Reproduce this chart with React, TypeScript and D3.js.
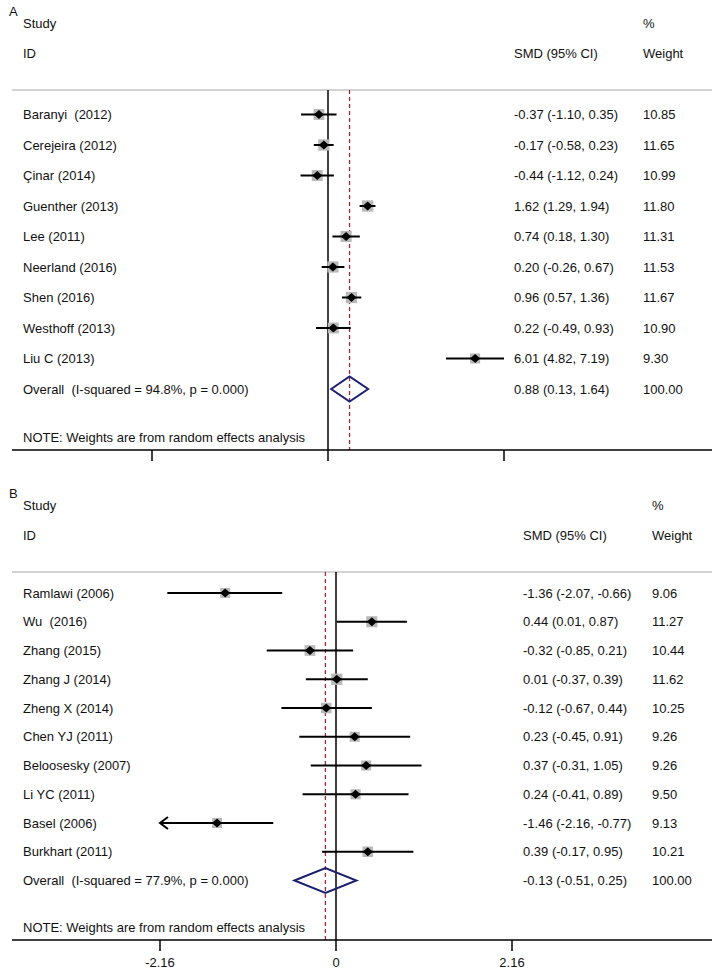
import React from "react";
import * as d3 from "d3";

// ---------- Data ----------
const studiesA = ["Baranyi  (2012)", "Cerejeira (2012)", "Çinar (2014)", "Guenther (2013)", "Lee (2011)", "Neerland (2016)", "Shen (2016)", "Westhoff (2013)", "Liu C (2013)"];
const smdA = [-0.37, -0.17, -0.44, 1.62, 0.74, 0.2, 0.96, 0.22, 6.01];
const lowA = [-1.1, -0.58, -1.12, 1.29, 0.18, -0.26, 0.57, -0.49, 4.82];
const highA = [0.35, 0.23, 0.24, 1.94, 1.3, 0.67, 1.36, 0.93, 7.19];
const weightA = [10.85, 11.65, 10.99, 11.8, 11.31, 11.53, 11.67, 10.9, 9.3];
const overallA = [0.88, 0.13, 1.64];
const overallLabelA = "Overall  (I-squared = 94.8%, p = 0.000)";
const ticksA = [-7.19, 0, 7.19];
const tickLabelsA = ["", "", ""];

const studiesB = ["Ramlawi (2006)", "Wu  (2016)", "Zhang (2015)", "Zhang J (2014)", "Zheng X (2014)", "Chen YJ (2011)", "Beloosesky (2007)", "Li YC (2011)", "Basel (2006)", "Burkhart (2011)"];
const smdB = [-1.36, 0.44, -0.32, 0.01, -0.12, 0.23, 0.37, 0.24, -1.46, 0.39];
const lowB = [-2.07, 0.01, -0.85, -0.37, -0.67, -0.45, -0.31, -0.41, -2.16, -0.17];
const highB = [-0.66, 0.87, 0.21, 0.39, 0.44, 0.91, 1.05, 0.89, -0.77, 0.95];
const weightB = [9.06, 11.27, 10.44, 11.62, 10.25, 9.26, 9.26, 9.5, 9.13, 10.21];
const overallB = [-0.13, -0.51, 0.25];
const overallLabelB = "Overall  (I-squared = 77.9%, p = 0.000)";
const ticksB = [-2.16, 0, 2.16];
const tickLabelsB = ["-2.16", "0", "2.16"];

const FONT = "'Liberation Sans', Arial, Helvetica, sans-serif";
const FS = 13;

type PanelProps = {
  letter: string;
  top: number;
  zero: number;
  studies: string[];
  smd: number[];
  low: number[];
  high: number[];
  weight: number[];
  overall: number[];
  overallLabel: string;
  ticks: number[];
  tickLabels: string[];
  firstRow: number;
  rowStep: number;
  axisY: number;
  smdX: number;
  wX: number;
};

const fmt = (v: number) => v.toFixed(2);

function Panel(p: PanelProps) {
  const tmax = p.ticks[p.ticks.length - 1];
  const x = d3.scaleLinear().domain([-tmax, tmax]).range([p.zero - 176, p.zero + 176]);
  const y = d3.scaleLinear().domain([0, 1]).range([p.firstRow, p.firstRow + p.rowStep]);
  const n = p.studies.length;
  const headerLine = p.top + 90;
  const txt = { fontFamily: FONT, fontSize: FS, fill: "#111" } as const;
  const ovY = y(n);
  const refX = x(p.overall[0]);
  const boxSize = (w: number) => Math.sqrt(w) * 3.3;
  const dh = 12.5;
  return (
    <g>
      <text x={9} y={p.top + 16} style={{ ...txt, fontSize: 13 }}>{p.letter}</text>
      <text x={23} y={p.top + 23} dy="0.35em" style={txt}>Study</text>
      <text x={23} y={p.top + 53} dy="0.35em" style={txt}>ID</text>
      <text x={p.smdX} y={p.top + 53} dy="0.35em" style={txt}>SMD (95% CI)</text>
      <text x={p.wX} y={p.top + 23} dy="0.35em" style={txt}>%</text>
      <text x={p.wX} y={p.top + 53} dy="0.35em" style={txt}>Weight</text>
      <line x1={12} x2={712} y1={headerLine} y2={headerLine} stroke="#c4c4c4" strokeWidth={1.5} />
      {/* zero line */}
      <line x1={x(0)} x2={x(0)} y1={headerLine} y2={p.axisY} stroke="#000" strokeWidth={1.5} />
      {/* overall dashed line */}
      <line x1={refX} x2={refX} y1={headerLine} y2={p.axisY} stroke="#9e2a35" strokeWidth={1.3} strokeDasharray="4,3" />
      {p.studies.map((s, i) => {
        const cy = y(i);
        const lo = Math.max(p.low[i], -tmax);
        const hi = Math.min(p.high[i], tmax);
        const arrowL = p.low[i] <= -tmax;
        const bs = boxSize(p.weight[i]);
        const cx = x(p.smd[i]);
        return (
          <g key={s}>
            <text x={23} y={cy} dy="0.35em" style={{ ...txt, whiteSpace: "pre" }}>{s}</text>
            <rect x={cx - bs / 2} y={cy - bs / 2} width={bs} height={bs} fill="#b9b9b9" />
            <line x1={x(lo)} x2={x(hi)} y1={cy} y2={cy} stroke="#000" strokeWidth={2} />
            {arrowL && (
              <path d={`M${x(lo) + 8},${cy - 6} L${x(lo)},${cy} L${x(lo) + 8},${cy + 6}`} fill="none" stroke="#000" strokeWidth={2} />
            )}
            <path d={`M${cx - 5},${cy} L${cx},${cy - 4.5} L${cx + 5},${cy} L${cx},${cy + 4.5} Z`} fill="#000" />
            <text x={p.smdX} y={cy} dy="0.35em" style={txt}>{`${fmt(p.smd[i])} (${fmt(p.low[i])}, ${fmt(p.high[i])})`}</text>
            <text x={p.wX} y={cy} dy="0.35em" style={txt}>{fmt(p.weight[i])}</text>
          </g>
        );
      })}
      <text x={23} y={ovY} dy="0.35em" style={{ ...txt, whiteSpace: "pre" }}>{p.overallLabel}</text>
      <path
        d={`M${x(p.overall[1])},${ovY} L${refX},${ovY - dh} L${x(p.overall[2])},${ovY} L${refX},${ovY + dh} Z`}
        fill="none"
        stroke="#1c2070"
        strokeWidth={2}
      />
      <text x={p.smdX} y={ovY} dy="0.35em" style={txt}>{`${fmt(p.overall[0])} (${fmt(p.overall[1])}, ${fmt(p.overall[2])})`}</text>
      <text x={p.wX} y={ovY} dy="0.35em" style={txt}>100.00</text>
      <text x={23} y={p.axisY - 13} dy="0.35em" style={txt}>NOTE: Weights are from random effects analysis</text>
      <line x1={12} x2={712} y1={p.axisY} y2={p.axisY} stroke="#000" strokeWidth={1.5} />
      {p.ticks.map((t, i) => (
        <g key={i}>
          <line x1={x(t)} x2={x(t)} y1={p.axisY} y2={p.axisY + 11} stroke="#000" strokeWidth={1.5} />
          {p.tickLabels[i] && (
            <text x={x(t)} y={p.axisY + 22} dy="0.35em" textAnchor="middle" style={txt}>{p.tickLabels[i]}</text>
          )}
        </g>
      ))}
    </g>
  );
}

export default function App() {
  return (
    <div style={{ position: "absolute", left: 0, top: 0 }}>
      <svg width={717} height={975} style={{ display: "block", background: "#fff" }}>
        <rect width={717} height={975} fill="#fff" />
        <Panel
          letter="A"
          top={0}
          zero={328}
          studies={studiesA}
          smd={smdA}
          low={lowA}
          high={highA}
          weight={weightA}
          overall={overallA}
          overallLabel={overallLabelA}
          ticks={ticksA}
          tickLabels={tickLabelsA}
          firstRow={114.5}
          rowStep={30.5}
          axisY={450}
          smdX={514}
          wX={643}
        />
        <Panel
          letter="B"
          top={482}
          zero={336}
          studies={studiesB}
          smd={smdB}
          low={lowB}
          high={highB}
          weight={weightB}
          overall={overallB}
          overallLabel={overallLabelB}
          ticks={ticksB}
          tickLabels={tickLabelsB}
          firstRow={593}
          rowStep={28.75}
          axisY={940}
          smdX={523}
          wX={652}
        />
      </svg>
    </div>
  );
}
